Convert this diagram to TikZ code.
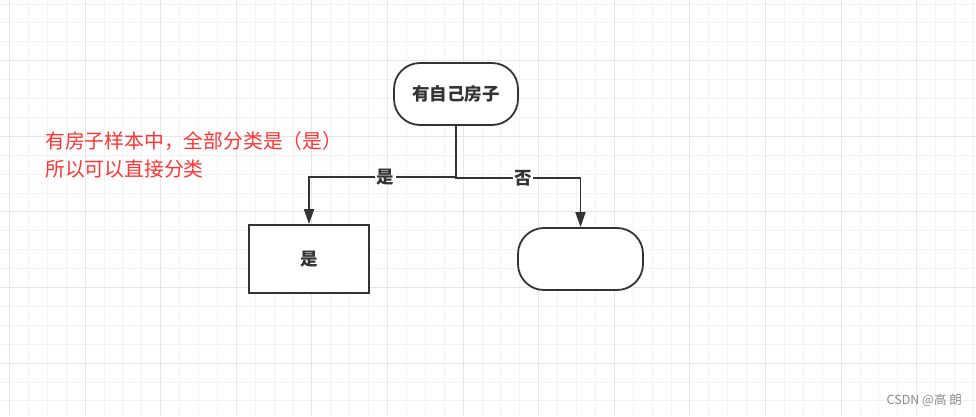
\documentclass[tikz,border=0pt]{standalone}
\usepackage{fontspec}
\setmainfont{Noto Sans CJK SC}
\newfontfamily\cjk{Noto Sans CJK SC}
\usetikzlibrary{arrows.meta,calc}
\definecolor{ink}{HTML}{333333}
\definecolor{noteRed}{HTML}{FF3333}
\definecolor{gridMinor}{HTML}{F3F3F3}
\definecolor{gridMajor}{HTML}{E6E6E6}

\tikzset{
  term/.style={draw=ink, line width=1.8pt, fill=white, rounded corners=26pt,
    text=ink, font=\cjk\bfseries\fontsize{17.5}{20}\selectfont},
  box/.style={draw=ink, line width=1.8pt, fill=white,
    text=ink, font=\cjk\bfseries\fontsize{17.5}{20}\selectfont},
  conn/.style={draw=ink, line width=1.8pt, -{Triangle[length=15pt,width=10pt]}},
  lbl/.style={fill=white, inner sep=1.5pt, text=ink,
    font=\cjk\bfseries\fontsize{17.5}{20}\selectfont},
}

\begin{document}
\begin{tikzpicture}[x=1pt,y=-1pt]

  \useasboundingbox (0,0) rectangle (976,416);
  \fill[white] (0,0) rectangle (976,416);
  % grid
  \foreach \i in {0,...,51}
    \draw[gridMinor, line width=1pt] ({9.5+18.9*\i},0) -- ++(0,416);
  \foreach \i in {0,...,21}
    \draw[gridMinor, line width=1pt] (0,{4+18.9*\i}) -- ++(976,0);
  \foreach \i in {0,4,...,48}
    \draw[gridMajor, line width=1pt] ({9.5+18.9*\i},0) -- ++(0,416);
  \foreach \i in {3,7,...,19}
    \draw[gridMajor, line width=1pt] (0,{4+18.9*\i}) -- ++(976,0);

  \draw (456,94) node (house) [term, minimum width=124pt, minimum height=62pt] {有自己房子};
  \draw (309,259) node (yes) [box, minimum width=120pt, minimum height=68pt] {是};
  \draw (580.5,259) node (other) [term, minimum width=125pt, minimum height=62pt] {};

  \draw[conn] (house.south) -- ++(0,51) -| node[lbl, pos=0.24] {是} (yes.north);
  \draw[conn] (house.south) -- ++(0,52) -| node[lbl, pos=0.27] {否} (other.north);

  \node (note) [anchor=north west, align=left, inner sep=0pt, text=noteRed,
    font=\cjk\fontsize{19.8}{28}\selectfont] at (45,131)
    {有房子样本中，全部分类是（是）\\所以可以直接分类};

  \node (mark) [anchor=east, inner sep=0pt, text=black!45,
    font=\cjk\fontsize{12.5}{14}\selectfont] at (962,400) {CSDN @高 朗};

\end{tikzpicture}
\end{document}
